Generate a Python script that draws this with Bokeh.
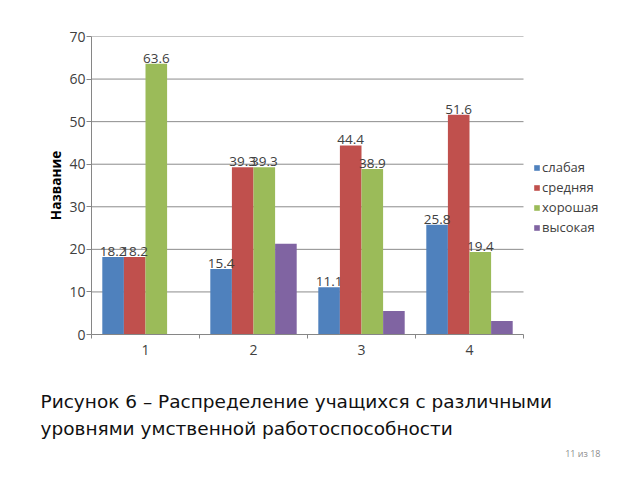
from bokeh.plotting import figure
from bokeh.models import (ColumnDataSource, FixedTicker, Legend, LegendItem, LabelSet, Range1d, Title)
from bokeh.core.properties import value
from bokeh.embed import file_html
from bokeh.resources import INLINE

categories = ["1", "2", "3", "4"]
series_names = ["слабая", "средняя", "хорошая", "высокая"]
slabaya = [18.2, 15.4, 11.1, 25.8]
srednyaya = [18.2, 39.3, 44.4, 51.6]
khoroshaya = [63.6, 39.3, 38.9, 19.4]
vysokaya = [0.0, 21.3, 5.5, 3.2]
y_ticks = [0, 10, 20, 30, 40, 50, 60, 70]
y_label = "Название"
caption_lines = ["Рисунок 6 – Распределение учащихся с различными",
                 "уровнями умственной работоспособности"]
page_no = "11 из 18"

colors = ["#4F81BD", "#C0504D", "#9BBB59", "#8064A2"]
offsets = [-0.3, -0.1, 0.1, 0.3]
all_series = [slabaya, srednyaya, khoroshaya, vysokaya]
labelled = [True, True, True, False]
FONT = "Open Sans"

X0, X1 = 0.5, 4.5
# frame spans from x=91px to the right edge (640px); 108px per category
p = figure(width=640, height=480, output_backend="svg", toolbar_location=None,
           x_range=Range1d(X0, X0 + (640 - 91) / 108.0), y_range=Range1d(0, 70),
           min_border_left=91, min_border_right=0, min_border_top=36, min_border_bottom=146)
p.outline_line_color = None

# horizontal gridlines limited to the category span
p.xgrid.grid_line_color = None
p.ygrid.grid_line_color = None
p.segment(x0=[X0] * (len(y_ticks) - 1), x1=[X1] * (len(y_ticks) - 1),
          y0=y_ticks[1:], y1=y_ticks[1:], line_color="#8c8c8c", line_width=1)

xs = [i + 1 for i in range(len(categories))]
items = []
for k, (vals, col, off) in enumerate(zip(all_series, colors, offsets)):
    src = ColumnDataSource(dict(x=[x + off for x in xs], top=vals,
                                lab=[f"{v:.1f}" for v in vals]))
    r = p.vbar(x="x", top="top", width=0.2, source=src, fill_color=col, line_color=None)
    items.append(LegendItem(label=series_names[k], renderers=[r]))
    if labelled[k]:
        ls = LabelSet(x="x", y="top", text="lab", source=src, text_align="center",
                      text_baseline="bottom", y_offset=1, text_font_size=value("13.5px"),
                      text_color=value("#404040"), text_font=value(FONT))
        p.add_layout(ls)

# axes
p.xaxis.bounds = (X0, X1)
p.xaxis.ticker = FixedTicker(ticks=xs, minor_ticks=[0.5, 1.5, 2.5, 3.5, 4.5])
p.xaxis.major_label_overrides = {x: c for x, c in zip(xs, categories)}
p.xaxis.major_tick_out = 0
p.xaxis.major_tick_in = 0
p.xaxis.minor_tick_out = 4
p.xaxis.minor_tick_in = 0
p.xaxis.axis_line_color = "#868686"
p.xaxis.minor_tick_line_color = "#868686"
p.xaxis.major_label_text_font = FONT
p.xaxis.major_label_text_font_size = "14px"
p.xaxis.major_label_text_color = "#404040"
p.xaxis.major_label_standoff = 6

p.yaxis.ticker = FixedTicker(ticks=y_ticks, minor_ticks=[])
p.yaxis.major_tick_out = 5
p.yaxis.major_tick_in = 0
p.yaxis.axis_line_color = "#868686"
p.yaxis.major_tick_line_color = "#868686"
p.yaxis.major_label_text_font = FONT
p.yaxis.major_label_text_font_size = "14px"
p.yaxis.major_label_text_color = "#404040"
p.yaxis.major_label_standoff = 1
p.yaxis.axis_label = y_label
p.yaxis.axis_label_text_font = FONT
p.yaxis.axis_label_text_font_size = "13.5px"
p.yaxis.axis_label_text_font_style = "bold"
p.yaxis.axis_label_text_color = "black"
p.yaxis.axis_label_standoff = 1

legend = Legend(items=items, location=(442, 97), orientation="vertical",
                glyph_width=7, glyph_height=7, label_height=20, label_standoff=2,
                padding=0, spacing=0, margin=0, border_line_color=None,
                background_fill_alpha=0, label_text_font=FONT,
                label_text_font_size="13px", label_text_color="#404040")
p.add_layout(legend)

# caption below the chart, as titles in the bottom panel (first one is a small spacer)
p.add_layout(Title(text=" ", standoff=20, text_font_size="7px"), "below")
for i, line in enumerate(caption_lines):
    t = Title(text=line, align="left", offset=-51, standoff=4, text_line_height=0.6,
              text_font="DejaVu Sans", text_font_size="18.5px",
              text_font_style="normal", text_color="#111111")
    p.add_layout(t, "below")
p.add_layout(Title(text=page_no, align="right", offset=40, standoff=8,
                   text_font=FONT, text_font_size="9px", text_font_style="normal",
                   text_color="#8c8c8c"), "below")

open("out.html", "w").write(file_html(p, INLINE))
